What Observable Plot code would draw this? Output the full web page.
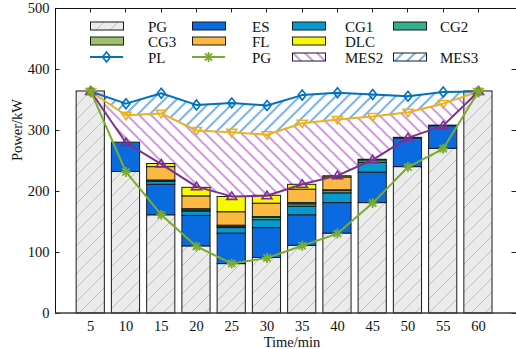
<!DOCTYPE html>
<html><head><meta charset="utf-8">
<script src="https://cdn.jsdelivr.net/npm/d3@7"></script>
<script src="https://cdn.jsdelivr.net/npm/@observablehq/plot@0.6"></script>
<style>
body{margin:0;background:#fff;}
#wrap{position:relative;width:516px;height:349px;font-family:"Liberation Serif","Times New Roman",serif;}
#legend{position:absolute;left:0;top:0;pointer-events:none;}
</style></head><body>
<div id="wrap"></div>
<script>
// ---- data ----
const times = [5,10,15,20,25,30,35,40,45,50,55,60];
const pgBar  = [364,232,161,110,81,91,111,131,181,240,270,364];
const esBar  = [0,48,50,50,50,49,50,50,50,47,37,0];
const cg1Bar = [0,0,5,7,9,13,14,16,16,1,1,0];
const cg2Bar = [0,0,1,2,2,4,4,4,4,0,0,0];
const cg3Bar = [0,0,1,2,2,1,2,1,1,0,0,0];
const flBar  = [0,0,22,21,22,22,22,21,0,0,0,0];
const dlcBar = [0,0,5,14,25,13,8,2,0,0,0,0];
const plLine    = [364,344,361,342,345,341,358,362,359,356,363,364];
const mes3Line  = [364,325,328,300,297,293,312,318,323,330,344,364];
const totalLine = [364,280,245,208,192,193,212,226,252,288,308,364];
const pgLine    = [364,232,162,110,82,91,111,131,181,240,270,364];
const yTicks = [0,100,200,300,400,500];
const xLabel = "Time/min";
const yLabel = "Power/kW";
const legendNames = ["PG","ES","CG1","CG2","CG3","FL","DLC","PL","PG","MES2","MES3"];

// ---- patterns ----
const defsSvg = d3.select("body").append("svg").attr("width",0).attr("height",0).style("position","absolute");
const defs = defsSvg.append("defs");
function hatch(id, s, bg, stroke, sw, dir) {
  const p = defs.append("pattern").attr("id", id).attr("patternUnits","userSpaceOnUse").attr("width", s).attr("height", s);
  if (bg) p.append("rect").attr("width", s).attr("height", s).attr("fill", bg);
  const d = dir === "/"
    ? `M${-s/2},${s/2}L${s/2},${-s/2}M0,${s}L${s},0M${s/2},${s*1.5}L${s*1.5},${s/2}`
    : `M${-s/2},${s/2}L${s/2},${s*1.5}M0,0L${s},${s}M${s/2},${-s/2}L${s*1.5},${s/2}`;
  p.append("path").attr("d", d).attr("stroke", stroke).attr("stroke-width", sw).attr("fill", "none");
}
hatch("hatchPG", 14, "#ebebeb", "#bdbdbd", 1, "/");
hatch("hatchMES2", 12, null, "#d295f7", 2, "\\");
hatch("hatchMES3", 12, null, "#80b3e2", 2, "/");

const C = {
  PG: "url(#hatchPG)", ES: "#0a6be0", CG1: "#0899cf", CG2: "#30b08f", CG3: "#9fc06a",
  FL: "#fbb843", DLC: "#f8f800", PL: "#0072BD", MES: "#EDB120", TOT: "#7E2F8E", PGL: "#77AC30"
};
const series = [["PG", pgBar], ["ES", esBar], ["CG1", cg1Bar], ["CG2", cg2Bar], ["CG3", cg3Bar], ["FL", flBar], ["DLC", dlcBar]];
const barRows = [];
times.forEach((t, i) => {
  let acc = 0;
  for (const [name, arr] of series) {
    const v = arr[i];
    if (v > 0) barRows.push({t, name, y1: acc, y2: acc + v});
    acc += v;
  }
});
const lineRows = times.map((t, i) => ({t, pl: plLine[i], mes: mes3Line[i], tot: totalLine[i], pg: pgLine[i]}));
const halfW = 2;

// ---- symbols ----
const rad = s => Math.sqrt(s / Math.PI);
const symDiamond = {draw(c, s){ const r = rad(s); c.moveTo(0,-r); c.lineTo(r*0.8,0); c.lineTo(0,r); c.lineTo(-r*0.8,0); c.closePath(); }};
const symTriDown = {draw(c, s){ const r = rad(s); c.moveTo(-r,-r*0.6); c.lineTo(r,-r*0.6); c.lineTo(0,r*0.9); c.closePath(); }};
const symTriUp = {draw(c, s){ const r = rad(s); c.moveTo(-r,r*0.6); c.lineTo(r,r*0.6); c.lineTo(0,-r*0.9); c.closePath(); }};
const symStar = {draw(c, s){ const r = rad(s), k = r*0.72; c.moveTo(-r,0); c.lineTo(r,0); c.moveTo(0,-r); c.lineTo(0,r); c.moveTo(-k,-k); c.lineTo(k,k); c.moveTo(-k,k); c.lineTo(k,-k); }};

// ---- frame/ticks render functions ----
function ticksMark(index, scales, values, dims) {
  const {x, y} = scales;
  const L = dims.marginLeft, R = dims.width - dims.marginRight, T = dims.marginTop, B = dims.height - dims.marginBottom;
  const g = d3.create("svg:g").attr("stroke", "#222").attr("stroke-width", 1);
  for (const v of yTicks) {
    const py = Math.round(y(v)) + 0.5;
    g.append("line").attr("x1", L).attr("x2", L + 4.5).attr("y1", py).attr("y2", py);
    g.append("line").attr("x1", R - 4.5).attr("x2", R).attr("y1", py).attr("y2", py);
  }
  for (const v of times) {
    const px = Math.round(x(v)) + 0.5;
    g.append("line").attr("x1", px).attr("x2", px).attr("y1", T).attr("y2", T + 4.5);
    g.append("line").attr("x1", px).attr("x2", px).attr("y1", B - 4.5).attr("y2", B);
  }
  return g.node();
}
function boxMark(index, scales, values, dims) {
  const L = dims.marginLeft, R = dims.width - dims.marginRight, T = dims.marginTop, B = dims.height - dims.marginBottom;
  const g = d3.create("svg:g").attr("fill", "none");
  g.append("path").attr("d", `M${L+0.5},${B}V${T+0.5}H${R}`).attr("stroke", "#111").attr("stroke-width", 1);
  g.append("path").attr("d", `M${L},${B}H${R}`).attr("stroke", "#3a3a3a").attr("stroke-width", 1.6);
  return g.node();
}

const marks = [
  ticksMark,
  Plot.areaY(lineRows, {x: "t", y1: "mes", y2: "pl", fill: "url(#hatchMES3)", curve: "linear"}),
  Plot.areaY(lineRows, {x: "t", y1: "tot", y2: "mes", fill: "url(#hatchMES2)", curve: "linear"}),
];
for (const [name] of series) {
  marks.push(Plot.rect(barRows.filter(d => d.name === name), {
    x1: d => d.t - halfW, x2: d => d.t + halfW, y1: "y1", y2: "y2",
    fill: C[name], stroke: "#1a1a1a", strokeWidth: 1
  }));
}
marks.push(
  boxMark,
  Plot.axisY({ticks: yTicks, tickSize: 0, tickPadding: 6, label: null, fontSize: 14.5}),
  Plot.axisX({ticks: times, tickSize: 0, tickPadding: 7, label: null, fontSize: 14.5, tickFormat: d => String(d)}),
  Plot.text([xLabel], {text: d => d, frameAnchor: "bottom", dy: 29, dx: 6, lineAnchor: "middle", fontSize: 14.5}),
  Plot.text([yLabel], {text: d => d, frameAnchor: "left", rotate: -90, dx: -38, lineAnchor: "middle", fontSize: 14.5}),
  Plot.line(lineRows, {x: "t", y: "pl", stroke: C.PL, strokeWidth: 2}),
  Plot.dot(lineRows, {x: "t", y: "pl", symbol: symDiamond, r: 5, stroke: C.PL, strokeWidth: 1.6, fill: "none"}),
  Plot.line(lineRows, {x: "t", y: "mes", stroke: C.MES, strokeWidth: 2}),
  Plot.dot(lineRows, {x: "t", y: "mes", symbol: symTriDown, r: 5, stroke: C.MES, strokeWidth: 1.6, fill: "none"}),
  Plot.line(lineRows, {x: "t", y: "tot", stroke: C.TOT, strokeWidth: 2}),
  Plot.dot(lineRows, {x: "t", y: "tot", symbol: symTriUp, r: 5, stroke: C.TOT, strokeWidth: 1.6, fill: "none"}),
  Plot.line(lineRows, {x: "t", y: "pg", stroke: C.PGL, strokeWidth: 2}),
  Plot.dot(lineRows, {x: "t", y: "pg", symbol: symStar, r: 5, stroke: C.PGL, strokeWidth: 1.8, fill: "none"})
);

const chart = Plot.plot({
  width: 516, height: 349,
  marginLeft: 55, marginRight: 0, marginTop: 8, marginBottom: 36,
  x: {domain: [0, 65.4]},
  y: {domain: [0, 500]},
  style: {fontFamily: '"Liberation Serif", "Times New Roman", serif', fontSize: "14.5px", background: "white", color: "#111", overflow: "visible"},
  marks
});
const wrap = document.getElementById("wrap");
wrap.appendChild(chart);

// ---- legend ----
const lg = d3.select(wrap).append("svg").attr("id", "legend").attr("width", 516).attr("height", 70)
  .style("font-family", '"Liberation Serif", "Times New Roman", serif').style("font-size", "15px");
const patchX = [90, 192, 292, 393], textX = [148, 252, 345, 440], rowY = [26, 41, 57];
const entries = [
  {type: "patch", fill: C.PG}, {type: "patch", fill: C.ES}, {type: "patch", fill: C.CG1}, {type: "patch", fill: C.CG2},
  {type: "patch", fill: C.CG3}, {type: "patch", fill: C.FL}, {type: "patch", fill: C.DLC}, null,
  {type: "line", stroke: C.PL, sym: symDiamond, sw: 1.6}, {type: "line", stroke: C.PGL, sym: symStar, sw: 1.8},
  {type: "patch", fill: "url(#hatchMES2)"}, {type: "patch", fill: "url(#hatchMES3)"}
];
let ni = 0;
entries.forEach((e, k) => {
  if (!e) return;
  const col = k % 4, row = Math.floor(k / 4);
  const px = patchX[col], cy = rowY[row];
  if (e.type === "patch") {
    lg.append("rect").attr("x", px + 0.5).attr("y", cy - 4).attr("width", 33).attr("height", 8)
      .attr("fill", e.fill).attr("stroke", "#1a1a1a").attr("stroke-width", 1);
  } else {
    lg.append("line").attr("x1", px).attr("x2", px + 33).attr("y1", cy).attr("y2", cy).attr("stroke", e.stroke).attr("stroke-width", 2);
    lg.append("path").attr("transform", `translate(${px + 16.5},${cy})`)
      .attr("d", d3.symbol().type(e.sym).size(25 * Math.PI)()).attr("fill", "none").attr("stroke", e.stroke).attr("stroke-width", e.sw);
  }
  lg.append("text").attr("x", textX[col]).attr("y", cy + 1).attr("dy", "0.32em").attr("fill", "#111").text(legendNames[ni++]);
});
</script>
</body></html>
